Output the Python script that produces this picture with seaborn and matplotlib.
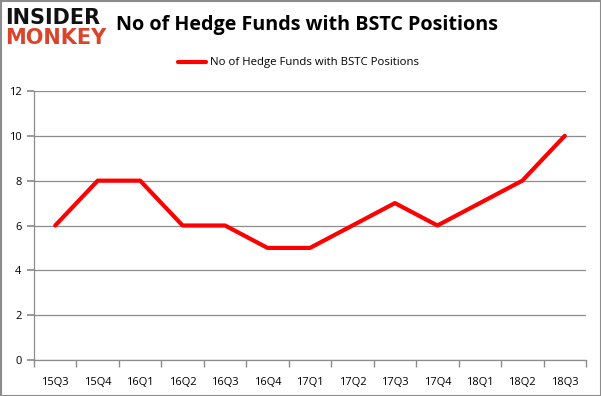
import matplotlib
matplotlib.use("Agg")
import matplotlib.pyplot as plt
import seaborn as sns
import pandas as pd
import numpy as np
from matplotlib.patches import Rectangle

quarters = ["15Q3", "15Q4", "16Q1", "16Q2", "16Q3", "16Q4", "17Q1", "17Q2", "17Q3", "17Q4", "18Q1", "18Q2", "18Q3"]
funds = [6, 8, 8, 6, 6, 5, 5, 6, 7, 6, 7, 8, 10]
yticks = [0, 2, 4, 6, 8, 10, 12]
series_name = "No of Hedge Funds with BSTC Positions"

sns.set_theme(style="white")
plt.rcParams['font.family'] = ['Open Sans', 'DejaVu Sans']

df = pd.DataFrame({"pos": np.arange(len(quarters)), "value": funds, "series": series_name})

fig = plt.figure(figsize=(6.01, 3.96), dpi=100)
ax = fig.add_axes([34/601, 1 - 360/396, (586-34)/601, (360-91)/396])

sns.lineplot(data=df, x="pos", y="value", hue="series", palette=["#ff0000"],
             linewidth=3, ax=ax, legend=False)

ax.set_xlim(-0.5, len(quarters) - 0.5)
ax.set_ylim(0, 12)
ax.set_yticks(yticks)
ax.set_yticklabels([str(v) for v in yticks], fontsize=8, color="#000000")
ax.yaxis.grid(True, color="#8c8c8c", linewidth=0.9)
ax.set_axisbelow(True)

ax.set_xticks(np.arange(len(quarters)))
ax.set_xticklabels(quarters, fontsize=8, color="#000000")
ax.set_xticks(np.arange(len(quarters) + 1) - 0.5, minor=True)
ax.tick_params(axis="x", which="major", length=0, pad=12)
ax.tick_params(axis="x", which="minor", length=5, color="#8c8c8c", bottom=True)
ax.tick_params(axis="y", length=5, color="#8c8c8c", left=True, pad=4)
ax.set_xlabel("")
ax.set_ylabel("")
for s in ["top", "right"]:
    ax.spines[s].set_visible(False)
for s in ["left", "bottom"]:
    ax.spines[s].set_color("#8c8c8c")
    ax.spines[s].set_linewidth(0.9)

# legend
fig.lines.append(plt.Line2D([178/601, 206/601], [1 - 62/396, 1 - 62/396], color="#ff0000",
                            linewidth=3, transform=fig.transFigure))
fig.text(210/601, 1 - 62/396, series_name, fontsize=8.2, va="center", ha="left", color="#000000")

# title
fig.text(307/601, 1 - 25/396, "No of Hedge Funds with BSTC Positions", fontsize=14.2,
         fontweight="bold", ha="center", va="center", color="#000000")

# logo
fig.text(5/601, 1 - 18/396, "INSIDER", fontsize=15, fontweight="black", ha="left", va="center",
         color="#111111", family=["DejaVu Sans"])
fig.text(5/601, 1 - 38/396, "MONKEY", fontsize=15, fontweight="black", ha="left", va="center",
         color="#d9442b", family=["DejaVu Sans"])

# border
fig.patches.append(Rectangle((0.5/601, 0.5/396), 1 - 1/601, 1 - 1/396, transform=fig.transFigure,
                             fill=False, edgecolor="#8c8c8c", linewidth=1.5))

fig.savefig("out.png", dpi=100)
